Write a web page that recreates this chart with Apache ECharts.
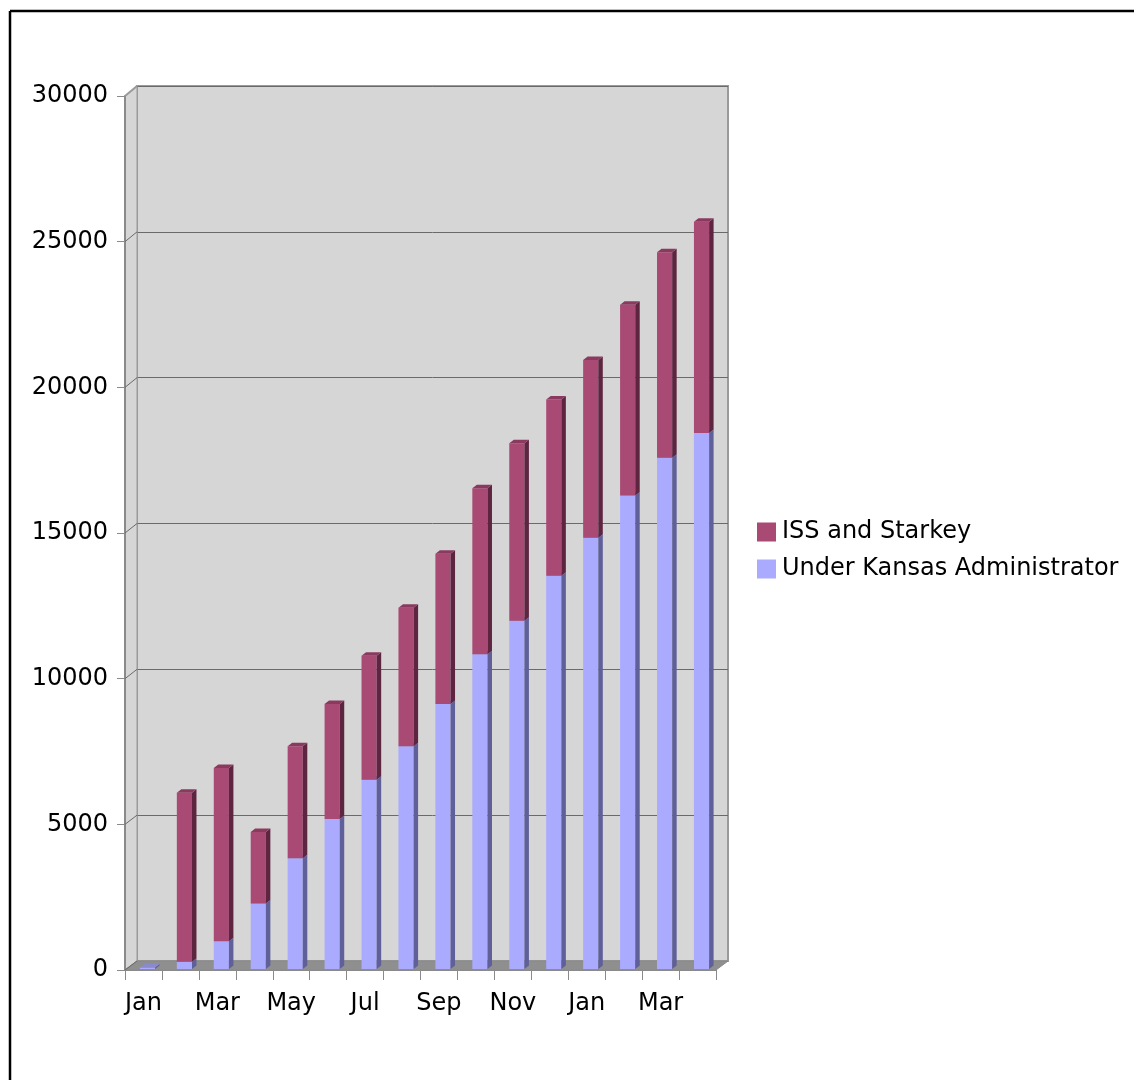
<!DOCTYPE html>
<html>
<head>
<meta charset="utf-8">
<script src="https://cdn.jsdelivr.net/npm/echarts@6/dist/echarts.min.js"></script>
<style>
html,body{margin:0;padding:0;background:#fff;}
#chart{width:1134px;height:1080px;}
</style>
</head>
<body>
<div id="chart"></div>
<script>
const categories = ['Jan','Feb','Mar','Apr','May','Jun','Jul','Aug','Sep','Oct','Nov','Dec','Jan','Feb','Mar','Apr'];
const kansasValues = [50, 250, 950, 2250, 3800, 5150, 6500, 7650, 9100, 10800, 11950, 13500, 14800, 16250, 17550, 18400];
const issValues = [0, 5800, 5950, 2450, 3850, 3950, 4250, 4750, 5150, 5700, 6100, 6050, 6100, 6550, 7050, 7250];
const yTicks = [0, 5000, 10000, 15000, 20000, 25000, 30000];
const seriesNames = ['ISS and Starkey', 'Under Kansas Administrator'];

const FONT = 'DejaVu Sans';
const chart = echarts.init(document.getElementById('chart'), null, {renderer: 'canvas'});

function prism(colors) {
  return function (params, api) {
    const x = api.value(0), b = api.value(1), t = api.value(2);
    if (!(t > b)) return null;
    const p0 = api.coord([x, b]);
    const p1 = api.coord([x, t]);
    const w = api.size([1, 0])[0] * 0.41;
    const xl = p0[0] - w / 2, xr = p0[0] + w / 2;
    const dx = 4.5, dy = -3.5;
    const yb = p0[1], yt = p1[1];
    return {
      type: 'group',
      children: [
        {type: 'rect', shape: {x: xl, y: yt, width: w, height: Math.max(0, yb - yt)}, style: {fill: colors[0]}},
        {type: 'polygon', shape: {points: [[xr, yt], [xr + dx, yt + dy], [xr + dx, yb + dy], [xr, yb]]}, style: {fill: colors[1]}},
        {type: 'polygon', shape: {points: [[xl, yt], [xl + dx, yt + dy], [xr + dx, yt + dy], [xr, yt]]}, style: {fill: colors[2]}}
      ]
    };
  };
}

const kansasData = kansasValues.map((v, i) => [i, 0, v]);
const issData = issValues.map((v, i) => [i, kansasValues[i], kansasValues[i] + v]);

const yMin = yTicks[0], yMax = yTicks[yTicks.length - 1], yStep = yTicks[1] - yTicks[0];

const option = {
  animation: false,
  backgroundColor: '#ffffff',
  textStyle: {fontFamily: FONT},
  grid: [
    {left: 137, top: 86, width: 591, height: 875, show: true, backgroundColor: '#d6d6d6', borderColor: '#9a9a9a', borderWidth: 2, containLabel: false},
    {left: 125, top: 96, width: 591, height: 874, containLabel: false},
    {left: 129, top: 95, width: 591, height: 874, containLabel: false}
  ],
  xAxis: [
    {type: 'category', gridIndex: 0, data: categories, show: false},
    {type: 'category', gridIndex: 1, data: categories,
      axisLine: {show: true, lineStyle: {color: '#8a8a8a', width: 2}},
      axisTick: {show: true, interval: 0, length: 10, lineStyle: {color: '#8a8a8a', width: 1}},
      axisLabel: {interval: 1, margin: 22, fontSize: 24, color: '#000', fontFamily: FONT},
      splitLine: {show: false}},
    {type: 'category', gridIndex: 2, data: categories, show: false}
  ],
  yAxis: [
    {type: 'value', gridIndex: 0, min: yMin, max: yMax, interval: yStep,
      axisLine: {show: false}, axisTick: {show: false}, axisLabel: {show: false},
      splitLine: {show: true, lineStyle: {color: '#6a6a6a', width: 1}}},
    {type: 'value', gridIndex: 1, min: yMin, max: yMax, interval: yStep,
      axisLine: {show: true, lineStyle: {color: '#8a8a8a', width: 2}},
      axisTick: {show: true, length: 8, lineStyle: {color: '#8a8a8a', width: 1}},
      axisLabel: {margin: 17, fontSize: 24, color: '#000', fontFamily: FONT, padding: [6, 0, 0, 0], formatter: v => String(v)},
      splitLine: {show: false}},
    {type: 'value', gridIndex: 2, min: yMin, max: yMax, show: false, splitLine: {show: false}}
  ],
  legend: {
    orient: 'vertical', left: 757, top: 520, padding: 0,
    itemWidth: 19, itemHeight: 19, itemGap: 13,
    icon: 'rect',
    data: seriesNames,
    textStyle: {fontSize: 24, color: '#000', fontFamily: FONT, padding: [0, 0, 0, 1]}
  },
  series: [
    {name: seriesNames[1], type: 'custom', xAxisIndex: 2, yAxisIndex: 2, z: 3,
      itemStyle: {color: '#aaaaff'},
      renderItem: prism(['#aaaaff', '#5f5f99', '#8a8acc']),
      encode: {x: 0, y: [1, 2]}, data: kansasData},
    {name: seriesNames[0], type: 'custom', xAxisIndex: 2, yAxisIndex: 2, z: 4,
      itemStyle: {color: '#a84a74'},
      renderItem: prism(['#a84a74', '#5e2541', '#8a3a5f']),
      encode: {x: 0, y: [1, 2]}, data: issData}
  ]
};
chart.setOption(option);

// decorative 3D frame: left wall, floor, connectors from front ticks to back grid lines
const connectors = yTicks.map(v => {
  const yf = chart.convertToPixel({yAxisIndex: 1}, v);
  const yb = chart.convertToPixel({yAxisIndex: 0}, v);
  return {type: 'line', z: 1, shape: {x1: 125, y1: yf, x2: 137, y2: yb},
    style: {stroke: v === yMax ? '#9a9a9a' : '#6a6a6a', lineWidth: v === yMax ? 2 : 1}};
});
const y0f = chart.convertToPixel({yAxisIndex: 1}, yMin);
const y0b = chart.convertToPixel({yAxisIndex: 0}, yMin);
const ytf = chart.convertToPixel({yAxisIndex: 1}, yMax);
const ytb = chart.convertToPixel({yAxisIndex: 0}, yMax);
chart.setOption({
  graphic: [
    {type: 'polygon', z: 0, shape: {points: [[125, ytf], [137, ytb], [137, y0b], [125, y0f]]},
      style: {fill: '#d6d6d6', stroke: '#9a9a9a', lineWidth: 1}},
    {type: 'polygon', z: 1, shape: {points: [[125, y0f], [716, y0f], [728, y0b], [137, y0b]]},
      style: {fill: '#8f8f8f', stroke: '#8a8a8a', lineWidth: 1}},
    ...connectors,
    {type: 'line', z: 5, shape: {x1: 10, y1: 11, x2: 1134, y2: 11}, style: {stroke: '#000', lineWidth: 2.5}},
    {type: 'line', z: 5, shape: {x1: 10, y1: 11, x2: 10, y2: 1080}, style: {stroke: '#000', lineWidth: 2.5}}
  ]
});
</script>
</body>
</html>
